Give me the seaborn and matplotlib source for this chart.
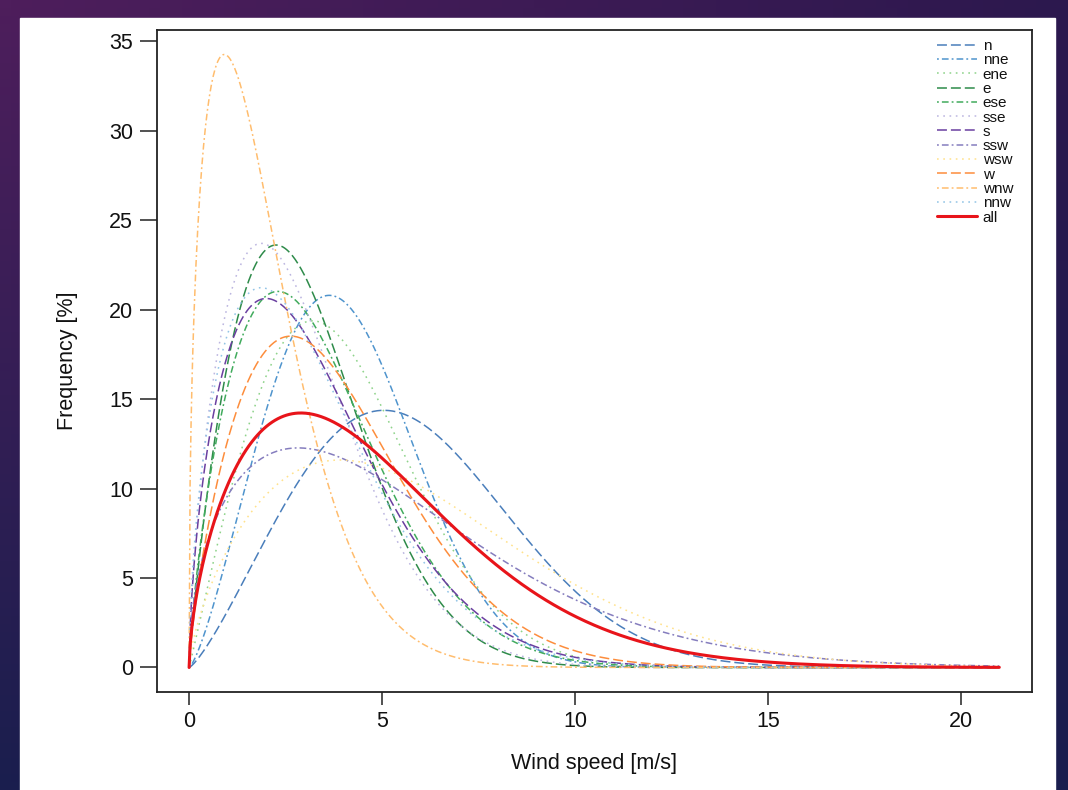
import numpy as np
import pandas as pd
import matplotlib
matplotlib.use("Agg")
import matplotlib.pyplot as plt
from matplotlib.patches import Rectangle
import seaborn as sns

# ---- data (Weibull parameters) ----
directions = ["n", "nne", "ene", "e", "ese", "sse", "s", "ssw", "wsw", "w", "wnw", "nnw", "all"]
shape_k = [2.27, 2.34, 2.03, 1.84, 1.74, 1.66, 1.60, 1.48, 1.68, 1.75, 1.42, 1.57, 1.60]
scale_c = [6.52, 4.61, 4.47, 3.45, 3.76, 3.26, 3.69, 6.05, 6.70, 4.28, 2.15, 3.56, 5.35]
speed_max = 21
x_ticks = [0, 5, 10, 15, 20]
y_ticks = [0, 5, 10, 15, 20, 25, 30, 35]

colors = ["#4A7EBB", "#4F94CD", "#8ED38A", "#2E8B4A", "#41AB5D", "#BCB6E0",
          "#6A3FA0", "#857DBE", "#FFE28C", "#FD8D3C", "#FFBD6E", "#92C4E6", "#E8141A"]
dashed = (0, (6.5, 2.6))
dotdash = (0, (1.2, 2.0, 4.4, 2.0))
dotted = (0, (1.1, 3.0))
styles = [dashed, dotdash, dotted] * 4 + ["-"]

# ---- figure ----
W, H, DPI = 1068, 790, 100
sns.set_theme(style="white")
plt.rcParams["font.family"] = ["Liberation Sans", "DejaVu Sans"]
fig = plt.figure(figsize=(W / DPI, H / DPI), dpi=DPI)

# dark gradient background + white panel
bg = fig.add_axes([0, 0, 1, 1], zorder=-10)
gy, gx = np.mgrid[0:1:100j, 0:1:100j]
top_left = np.array([78, 30, 92]) / 255
top_right = np.array([44, 24, 78]) / 255
bottom = np.array([26, 30, 78]) / 255
img = ((1 - gy)[..., None] * ((1 - gx)[..., None] * top_left + gx[..., None] * top_right)
       + gy[..., None] * bottom[None, None, :])
bg.imshow(img, aspect="auto", extent=[0, 1, 0, 1], origin="upper")
bg.set_xlim(0, 1); bg.set_ylim(0, 1)
bg.add_patch(Rectangle((20 / W, 0), (1055 - 20) / W, (H - 18) / H, color="white"))
bg.axis("off")

ax = fig.add_axes([156.7 / W, 1 - 692 / H, (1031.7 - 156.7) / W, (692 - 30) / H])
ax.set_facecolor("white")

xs = np.linspace(0, speed_max, 841)
frames = []
for d, k, c in zip(directions, shape_k, scale_c):
    f = 100 * (k / c) * (xs / c) ** (k - 1) * np.exp(-(xs / c) ** k)
    frames.append(pd.DataFrame({"speed": xs, "freq": f, "dir": d}))
df = pd.concat(frames, ignore_index=True)

for d, col, ls in zip(directions, colors, styles):
    sub = df[df["dir"] == d]
    lw = 2.2 if d == "all" else 1.1
    sns.lineplot(data=sub, x="speed", y="freq", ax=ax, color=col, linewidth=lw,
                 linestyle=ls, label=d, estimator=None, sort=False)

ax.set_xlim(-0.84, 21.84)
ax.set_ylim(-1.37, 35.64)
ax.set_xticks(x_ticks)
ax.set_yticks(y_ticks)
for s in ax.spines.values():
    s.set_visible(True)
    s.set_color("#222222")
    s.set_linewidth(1.3)
ax.tick_params(axis="y", direction="out", length=12, width=1.2, color="#333333",
               labelsize=15.5, pad=5, left=True)
ax.tick_params(axis="x", direction="out", length=9, width=1.2, color="#333333",
               labelsize=15.5, pad=5, bottom=True)
ax.set_xlabel("Wind speed [m/s]", fontsize=15.5, labelpad=15, color="#111111")
ax.set_ylabel("Frequency [%]", fontsize=15.5, labelpad=22, color="#111111")
for t in ax.get_xticklabels() + ax.get_yticklabels():
    t.set_color("#111111")

handles, labels = ax.get_legend_handles_labels()
leg = ax.legend(handles, labels, loc="upper left", bbox_to_anchor=(937 / W, 1 - 39 / H),
                bbox_transform=fig.transFigure, frameon=False, fontsize=11,
                labelspacing=0.02, handlelength=2.6, handletextpad=0.4, borderpad=0,
                borderaxespad=0)
for t in leg.get_texts():
    t.set_color("#111111")

fig.savefig("out.png", dpi=DPI)
